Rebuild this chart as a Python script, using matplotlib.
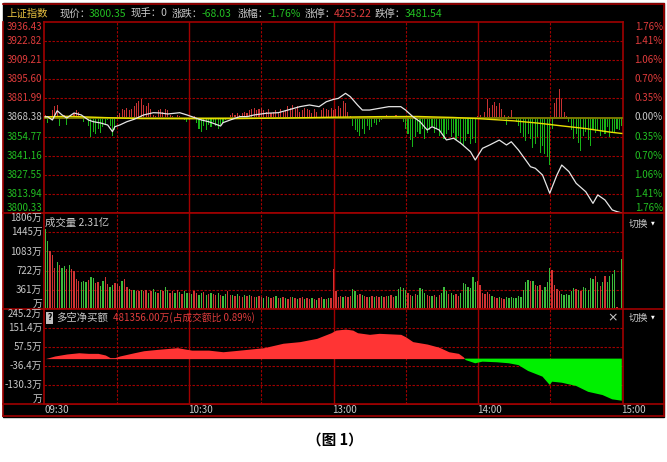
import numpy as np
import matplotlib
matplotlib.use("Agg")
import matplotlib.pyplot as plt
from matplotlib.patches import Rectangle
from matplotlib.transforms import blended_transform_factory

plt.rcParams['font.family'] = ['Noto Sans CJK SC', 'DejaVu Sans']

# ---- data (minutes after 09:30, afternoon continues at 120) ----
price_t = [0, 1, 3, 5, 7, 9, 12, 15, 18, 20, 23, 26, 28, 29, 31, 34, 37, 41, 45, 48,
           51, 56, 59, 65, 68, 70, 73, 74, 77, 81, 84, 87, 92, 97, 101, 106, 110, 114, 117, 120,
           122, 125, 127, 130, 132, 135, 139, 143, 148, 150, 153, 156, 159, 161, 164, 167, 170, 173, 177, 179,
           182, 185, 189, 192, 194, 197, 202, 204, 207, 210, 213, 215, 218, 221, 225, 228, 230, 233, 236, 238, 240]
price = [3868.9, 3868.9, 3866.6, 3873.2, 3870.2, 3868.0, 3871.6, 3870.2, 3866.6, 3865.4,
         3864.5, 3863.0, 3858.3, 3861.8, 3863.0, 3865.4, 3867.1, 3870.2, 3871.8, 3871.6,
         3870.9, 3871.8, 3870.2, 3866.6, 3865.4, 3864.2, 3862.3, 3864.7, 3866.6, 3869.0,
         3869.0, 3870.2, 3871.4, 3871.8, 3873.7, 3876.1, 3877.3, 3876.1, 3879.6, 3881.3,
         3882.0, 3885.6, 3883.2, 3877.3, 3873.7, 3873.7, 3874.9, 3876.1, 3876.1, 3873.7,
         3869.0, 3865.4, 3859.5, 3861.8, 3859.5, 3852.4, 3853.6, 3850.0, 3844.0, 3838.1,
         3846.4, 3848.8, 3852.3, 3848.8, 3851.1, 3845.2, 3833.3, 3832.2, 3827.4, 3814.4,
         3827.4, 3834.5, 3829.8, 3821.5, 3815.5, 3807.2, 3813.2, 3809.6, 3802.5, 3801.3, 3800.35]

avg_t = [0, 10, 25, 40, 60, 80, 100, 120, 140, 155, 170, 180, 195, 205, 215, 225, 235, 240]
avg_price = [3868.9, 3869.2, 3868.3, 3867.6, 3867.5, 3867.6, 3868.0, 3868.6, 3869.0,
             3869.1, 3868.4, 3867.6, 3866.0, 3864.4, 3862.4, 3860.5, 3858.0, 3857.0]

# red/green strength bars around the previous close, one per minute
strength = [2, -4, 0, 5, 8, 9, -6, 1, 2, -5,
            0, 1, 3, 5, 4, -1, -3, 0, -6, -14,
            -10, -12, -8, -11, -7, -5, -2, -6, -13, -9,
            2, 3, 6, 5, 7, 5, 6, 8, 10, 12,
            13, 9, 8, 10, 6, 2, 1, 5, 6, 4,
            6, 5, 2, 1, -1, 2, 1, 0, -2, -3,
            -2, 0, 1, -4, -8, -10, -6, -9, -5, -7,
            -3, -6, -8, -5, -4, -2, -1, 2, 3, 2,
            3, 2, 3, 4, 3, 5, 6, 7, 5, 6,
            7, 5, 4, 6, 3, 4, 5, 3, 6, 4,
            5, 8, 7, 9, 6, 8, 4, 5, 7, 6,
            5, 3, 6, 4, -1, 5, 7, 6, 5, 7,
            5, 6, 8, 7, 12, 10, 4, 1, -6, -9,
            -10, -13, -8, -12, -6, -9, -7, -4, -5, -3,
            -2, 1, 2, -1, 0, 1, 2, -1, 0, -3,
            -8, -12, -16, -21, -14, -10, -12, -8, -15, -11,
            -9, -6, -11, -8, -13, -10, -15, -12, -9, -14,
            -11, -16, -13, -18, -20, -17, -12, -19, -15, -18,
            1, 2, -1, 4, 13, 7, 9, 11, 8, 10,
            6, 2, -5, 1, 5, 0, -3, -6, -11, -14,
            -17, -12, -15, -22, -19, -14, -25, -20, -26, -28,
            -34, -8, 10, 14, 20, 13, 4, 1, -3, -9,
            -15, -12, -18, -24, -13, -10, -16, -20, -8, -11,
            -9, -13, -10, -12, -7, -14, -11, -10, -8, -9, -6]

# volume per minute (万手) and bar colour (r up / g down)
volume = [1510, 1280, 1100, 1020, 780, 880, 830, 780, 810, 760,
          830, 760, 720, 560, 530, 510, 520, 500, 540, 600,
          580, 480, 500, 440, 520, 610, 470, 420, 450, 480,
          470, 430, 530, 560, 410, 370, 350, 360, 330, 340,
          350, 330, 360, 310, 340, 370, 320, 300, 350, 330,
          420, 360, 310, 330, 300, 350, 320, 290, 340, 310,
          300, 280, 330, 310, 270, 300, 320, 260, 290, 310,
          280, 260, 300, 270, 250, 290, 330, 270, 260, 240,
          280, 250, 230, 260, 240, 270, 250, 230, 220, 250,
          230, 210, 240, 220, 200, 230, 250, 210, 200, 220,
          210, 190, 220, 230, 200, 180, 210, 220, 190, 200,
          180, 210, 190, 170, 200, 220, 190, 180, 200, 210,
          750, 340, 230, 240, 220, 250, 230, 240, 380, 340,
          270, 280, 260, 250, 230, 220, 240, 230, 250, 220,
          240, 230, 250, 240, 260, 230, 250, 380, 420, 400,
          360, 300, 260, 240, 280, 260, 390, 370, 300, 260,
          250, 240, 270, 230, 260, 300, 410, 330, 280, 300,
          260, 280, 250, 300, 480, 470, 420, 400, 610, 500,
          520, 460, 300, 290, 320, 280, 250, 220, 200, 230,
          210, 190, 220, 200, 230, 210, 200, 240, 230, 360,
          500, 540, 520, 530, 450, 440, 450, 360, 420, 500,
          780, 730, 450, 380, 330, 290, 270, 280, 260, 330,
          390, 380, 360, 330, 410, 390, 360, 580, 560, 630,
          500, 440, 500, 630, 500, 620, 660, 730, 44, 0, 940]
vol_dir = ("ggrrrgrggr" "grrrrgggrg" "grrggrrggr" "rrgrrgrgrr" "grrgrggrgr"
           "ggrrgrgrgg" "rgrrggrgrg" "rrgrggrrgr" "grrgrgrrgr" "rgrgrrgrgr"
           "grrgrgrrgr" "rgrgrrgrgr" "rrrrgrrrgg" "rrgrrgrgrr" "grrgrrgggg"
           "grrgrggggr" "rgrgrgggrg" "grrggggggg" "rrrrrrgrrg" "rrgggggggg"
           "ggrgrgrggg" "grrrrggggg" "grgrgggggr" "grgrggggrrg")

# net buy amount (万)
net_t = [0, 4, 9, 14, 18, 22, 25, 27, 29, 31, 37, 41, 47, 55, 61, 68, 74, 81, 91, 99,
         106, 113, 119, 121, 125, 128, 130, 135, 139, 148, 150, 153, 159, 164, 168, 172, 174, 175, 179, 182,
         188, 193, 197, 201, 207, 210, 211, 215, 221, 226, 232, 236, 240]
net_buy = [0, 13, 23, 29, 26, 26, 18, 5, 5, 13, 29, 39, 46, 54, 42, 42, 34, 42, 54, 76,
           84, 100, 128, 141, 146, 141, 128, 120, 125, 120, 108, 84, 72, 56, 34, 26, 9, -7, -23, -15,
           -18, -23, -32, -61, -89, -130, -114, -119, -135, -164, -180, -201, -208]

prev_close = 3868.38
price_levels = [3936.43, 3922.82, 3909.21, 3895.60, 3881.99, 3868.38,
                3854.77, 3841.16, 3827.55, 3813.94, 3800.33]
pct_labels = ["1.76%", "1.41%", "1.06%", "0.70%", "0.35%", "0.00%",
              "0.35%", "0.70%", "1.06%", "1.41%", "1.76%"]
vol_levels = [1806, 1445, 1083, 722, 361, 0]
vol_labels = ["1806万", "1445万", "1083万", "722万", "361万", "万"]
net_levels = [245.2, 151.4, 57.5, -36.4, -130.3, -224.2]
net_labels = ["245.2万", "151.4万", "57.5万", "-36.4万", "-130.3万", "万"]
time_ticks = [0, 60, 120, 180, 240]
time_labels = ["09:30", "10:30", "13:00", "14:00", "15:00"]

RED_T = '#e03c3c'
GREEN_T = '#22c022'
GRAY_T = '#c8c8c8'
LINE = '#a00000'
DASH = (0, (2.2, 1.4))

W, H = 667, 462
fig = plt.figure(figsize=(W / 100, H / 100), dpi=100, facecolor='white')


def box(x0, y0, x1, y1):
    return [x0 / W, 1 - y1 / H, (x1 - x0) / W, (y1 - y0) / H]


bg = fig.add_axes([0, 0, 1, 1])
bg.set_xlim(0, W)
bg.set_ylim(H, 0)
bg.axis('off')
bg.add_patch(Rectangle((3, 3), 661, 414, color='black'))
for yy in [4, 213, 309, 404, 416]:
    bg.plot([3, 664], [yy, yy], color=LINE, lw=1.2)
bg.plot([3, 3], [22, 416], color=LINE, lw=1.2)
bg.plot([664, 664], [4, 416], color=LINE, lw=1.2)


def panel(y0, y1):
    ax = fig.add_axes(box(44, y0, 623, y1))
    ax.set_facecolor('black')
    ax.set_xlim(-0.5, 240.5)
    for s in ax.spines.values():
        s.set_color(LINE)
        s.set_linewidth(1.2)
    ax.set_xticks([])
    ax.set_yticks([])
    for t in [30, 90, 150, 210]:
        ax.axvline(t, color=LINE, lw=0.8, ls=DASH, zorder=1)
    for t in [60, 120, 180]:
        ax.axvline(t, color=LINE, lw=1.0, zorder=1)
    return ax


def side_labels(ax, levels, labels, colors, fs=7):
    tr = blended_transform_factory(ax.transAxes, ax.transData)
    n = len(levels)
    for i, (lv, lab, c) in enumerate(zip(levels, labels, colors)):
        va = 'top' if i == 0 else ('bottom' if i == n - 1 else 'center')
        ax.text(-0.003, lv, lab, transform=tr, ha='right', va=va,
                fontsize=fs, color=c, clip_on=False)


# ---- price panel ----
ax_p = panel(22, 213)
ax_p.set_ylim(price_levels[-1], price_levels[0])
for lv in price_levels[1:-1]:
    if lv != prev_close:
        ax_p.axhline(lv, color=LINE, lw=0.8, ls=DASH, zorder=1)
minutes = np.arange(len(strength))
s = np.array(strength)
ax_p.bar(minutes, s, bottom=prev_close, width=0.45,
         color=np.where(s >= 0, '#c83232', '#18b418'), zorder=2)
ax_p.axhline(prev_close, color='#7a7a00', lw=1.4, zorder=3)
ax_p.plot(avg_t, avg_price, color='#e8e000', lw=1.0, zorder=4)
ax_p.plot(price_t, price, color='#e6e6e6', lw=0.9, zorder=5)
lcol = [RED_T] * 5 + [GRAY_T] + [GREEN_T] * 5
side_labels(ax_p, price_levels, [f"{v:.2f}" for v in price_levels], lcol)
tr = blended_transform_factory(ax_p.transAxes, ax_p.transData)
for i, (lv, lab) in enumerate(zip(price_levels, pct_labels)):
    va = 'top' if i == 0 else ('bottom' if i == len(price_levels) - 1 else 'center')
    ax_p.text(1.0685, lv, lab, transform=tr, ha='right', va=va,
              fontsize=7, color=lcol[i], clip_on=False)

# ---- volume panel ----
ax_v = panel(213, 309)
ax_v.set_ylim(0, vol_levels[0])
for lv in vol_levels[1:-1]:
    ax_v.axhline(lv, color=LINE, lw=0.8, ls=DASH, zorder=1)
ax_v.bar(np.arange(len(volume)), volume, width=0.55,
         color=['#d03434' if c == 'r' else '#3cbc3c' for c in vol_dir], zorder=2)
side_labels(ax_v, vol_levels, vol_labels, [GRAY_T] * len(vol_levels))

# ---- net buy panel ----
ax_n = panel(309, 404)
ax_n.set_ylim(net_levels[-1], net_levels[0])
for lv in net_levels[1:-1]:
    ax_n.axhline(lv, color=LINE, lw=0.8, ls=DASH, zorder=1)
nb = np.array(net_buy, dtype=float)
ax_n.fill_between(net_t, nb, 0, where=nb >= 0, interpolate=True,
                  color='#ff3434', lw=0, zorder=2)
ax_n.fill_between(net_t, nb, 0, where=nb <= 0, interpolate=True,
                  color='#00f000', lw=0, zorder=2)
side_labels(ax_n, net_levels, net_labels, [GRAY_T] * len(net_levels))

# ---- overlay texts ----
ov = fig.add_axes([0, 0, 1, 1])
ov.set_xlim(0, W)
ov.set_ylim(H, 0)
ov.axis('off')

hy = 14
header = [(6, "上证指数", '#e8c040'), (60, "现价：", GRAY_T), (89, "3800.35", GREEN_T),
          (131, "现手：0", GRAY_T), (172, "涨跌：", GRAY_T), (202, "-68.03", GREEN_T),
          (238, "涨幅：", GRAY_T), (268, "-1.76%", GREEN_T), (305, "涨停：", GRAY_T),
          (334, "4255.22", RED_T), (375, "跌停：", GRAY_T), (405, "3481.54", GREEN_T)]
for x, txt, c in header:
    ov.text(x, hy, txt, color=c, fontsize=7.5, ha='left', va='center')

ov.text(45, 223, "成交量 2.31亿", color=GRAY_T, fontsize=7.5, ha='left', va='center')
for y in [224, 318]:
    ov.text(629, y, "切换", color=GRAY_T, fontsize=7, ha='left', va='center')
    ov.text(651, y - 1, "▼", color='white', fontsize=3.5, ha='left', va='center',
            family='DejaVu Sans')
ov.text(49.5, 318, "?", color='black', fontsize=5.5, ha='center', va='center',
        fontweight='bold', family='DejaVu Sans',
        bbox=dict(boxstyle='square,pad=0.15', fc='#c0c0c0', ec='none'))
ov.text(56, 318, "多空净买额", color=GRAY_T, fontsize=7.5, ha='left', va='center')
ov.text(113, 318, "481356.00万(占成交额比 0.89%)", color=RED_T, fontsize=7,
        ha='left', va='center')
ov.text(613, 318, "×", color=GRAY_T, fontsize=9, ha='center', va='center',
        family='DejaVu Sans')

tx = lambda t: 44 + (t + 0.5) / 241 * 579
for t, lab in zip(time_ticks, time_labels):
    ov.text(tx(t) - 1, 410, lab, color=GRAY_T, fontsize=7, ha='left', va='center')

ov.text(335, 440, "（图 1）", color='black', fontsize=10.5, fontweight='bold',
        ha='center', va='center')

fig.savefig('out.png', dpi=100, facecolor='white')
